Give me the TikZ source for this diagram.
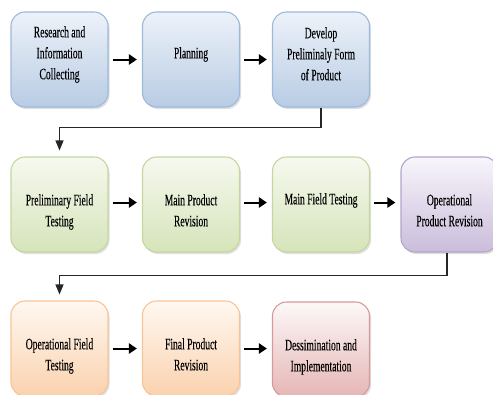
\documentclass[tikz,border=0pt]{standalone}
\usepackage{fontspec}
\setmainfont[FakeStretch=0.6,FakeBold=0.2]{Liberation Serif}
\usetikzlibrary{shadows,arrows.meta}
\definecolor{bluetop}{HTML}{EDF2F9}
\definecolor{bluebot}{HTML}{B8CCE4}
\definecolor{blueline}{HTML}{9DB9DB}
\definecolor{greentop}{HTML}{F6F9EF}
\definecolor{greenbot}{HTML}{D6E4BA}
\definecolor{greenline}{HTML}{C4D79E}
\definecolor{purptop}{HTML}{F8F5FB}
\definecolor{purpbot}{HTML}{CABDDB}
\definecolor{purpline}{HTML}{B5A4CB}
\definecolor{orgtop}{HTML}{FFF8F1}
\definecolor{orgbot}{HTML}{FAD2AE}
\definecolor{orgline}{HTML}{F8C496}
\definecolor{redtop}{HTML}{FDF8F8}
\definecolor{redbot}{HTML}{E5B6B5}
\definecolor{redline}{HTML}{D89A98}
\tikzset{
  box/.style={rounded corners=14pt, minimum width=97pt, minimum height=95pt,
    line width=1.1pt, inner sep=0pt,
    drop shadow={shadow xshift=1.5pt, shadow yshift=-2pt, opacity=0.25}},
  bluebox/.style={box, draw=blueline, top color=bluetop, bottom color=bluebot},
  greenbox/.style={box, draw=greenline, top color=greentop, bottom color=greenbot},
  purpbox/.style={box, draw=purpline, top color=purptop, bottom color=purpbot},
  orgbox/.style={box, draw=orgline, top color=orgtop, bottom color=orgbot},
  redbox/.style={box, draw=redline, top color=redtop, bottom color=redbot},
  lbl/.style={anchor=north, inner sep=0pt, align=center,
    font=\fontsize{16}{21}\selectfont},
  flow/.style={-{Triangle[length=8pt,width=10pt]}, line width=2pt,
    shorten <=4pt, shorten >=5pt},
  link/.style={-{Triangle[length=10pt,width=8pt]}, line width=1.3pt, draw=black!85,
    shorten >=6pt}
}
\begin{document}
\begin{tikzpicture}[x=1pt,y=-1pt]
\useasboundingbox (0,0) rectangle (493,394);
\clip (0,0) rectangle (493,394);
% row 1
\node[bluebox] (b1) at (59.5,59.5) {};
\node[bluebox] (b2) at (191,59.5) {};
\node[bluebox] (b3) at (321,59.5) {};
% row 2
\node[greenbox] (b4) at (59.5,204.5) {};
\node[greenbox] (b5) at (191,204.5) {};
\node[greenbox] (b6) at (321,204.5) {};
\node[purpbox] (b7) at (449.5,204.5) {};
% row 3
\node[orgbox] (b8) at (59.5,348.5) {};
\node[orgbox] (b9) at (191,348.5) {};
\node[redbox] (b10) at (321,349.5) {};
% labels
\node[lbl] (t1) at (59.5,26) {Research and\\Information\\Collecting};
\node[lbl] (t2) at (191,47) {Planning};
\node[lbl] (t3) at (321,27) {Develop\\Preliminaly Form\\of Product};
\node[lbl] (t4) at (59.5,194) {Preliminary Field\\Testing};
\node[lbl] (t5) at (191,194) {Main Product\\Revision};
\node[lbl] (t6) at (321,193) {Main Field Testing};
\node[lbl] (t7) at (449.5,194) {Operational\\Product Revision};
\node[lbl] (t8) at (59.5,338) {Operational Field\\Testing};
\node[lbl] (t9) at (191,338) {Final Product\\Revision};
\node[lbl] (t10) at (321,339) {Dessimination and\\Implementation};
% arrows
\draw[flow] (b1.east) -- (b2.west);
\draw[flow] (b2.east) -- (b3.west);
\draw[flow] ([yshift=2pt]b4.east) -- ([yshift=2pt]b5.west);
\draw[flow] ([yshift=2pt]b5.east) -- ([yshift=2pt]b6.west);
\draw[flow] ([yshift=2pt]b6.east) -- ([yshift=2pt]b7.west);
\draw[flow] (b8.east) -- (b9.west);
\draw[flow] (b9.east) -- ([yshift=1pt]b10.west);
% connectors
\coordinate (c1) at ([yshift=-20pt]b3.south);
\coordinate (c2) at ([xshift=-2.5pt,yshift=-23pt]b7.south);
\draw[link] (b3.south) -- (c1) -| (b4.north);
\draw[link] ([xshift=-2.5pt]b7.south) -- (c2) -| (b8.north);
\end{tikzpicture}
\end{document}
